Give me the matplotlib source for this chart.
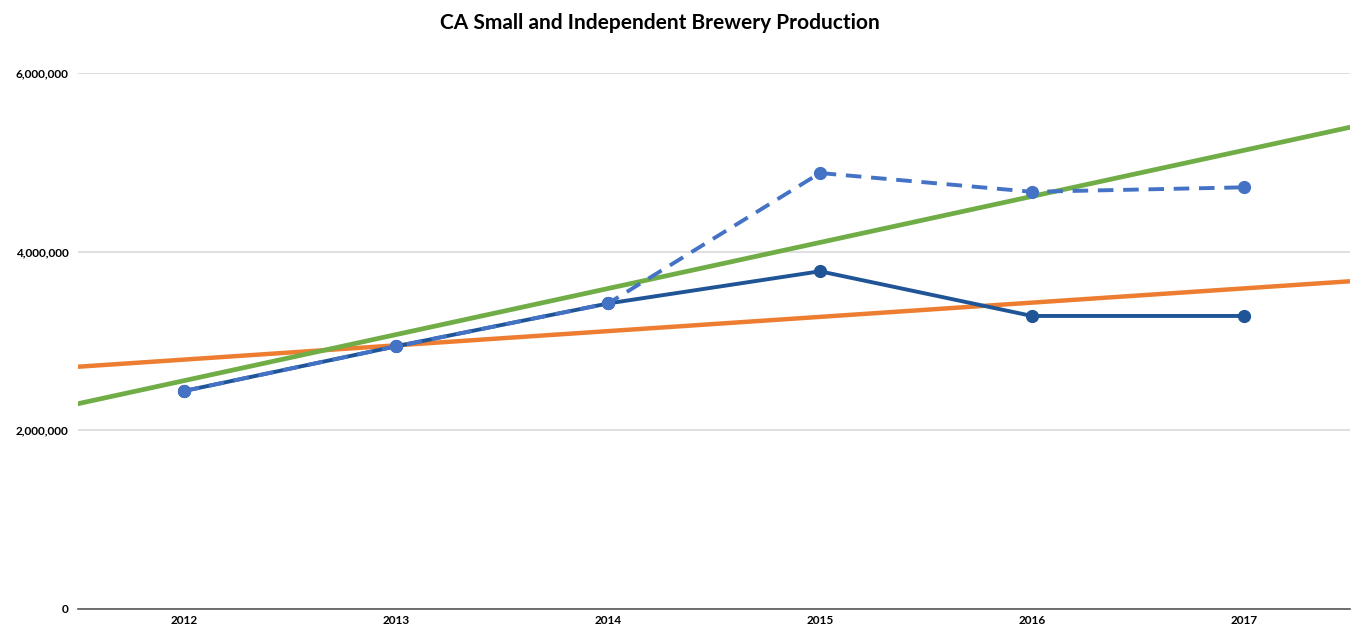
import numpy as np
import matplotlib
matplotlib.use("Agg")
import matplotlib.pyplot as plt
from matplotlib.ticker import FuncFormatter

# Data
years = ["2012", "2013", "2014", "2015", "2016", "2017"]
production = [2440000, 2940000, 3420000, 3780000, 3280000, 3280000]
production_alt = [2440000, 2940000, 3420000, 4880000, 4670000, 4720000]
y_ticks = [0, 2000000, 4000000, 6000000]

DARK_BLUE = "#1f5597"
LIGHT_BLUE = "#4472c4"
ORANGE = "#ed7d31"
GREEN = "#70ad47"

plt.rcParams["font.family"] = ["Lato", "DejaVu Sans"]


def main():
    x = np.arange(len(years))

    fig = plt.figure(figsize=(13.55, 6.28), dpi=100)
    ax = fig.add_axes([0.0576, 0.0303, 0.9387, 0.8535])

    ax.set_xlim(-0.5, len(years) - 0.5)
    ax.set_ylim(0, 6000000)

    # gridlines
    ax.set_yticks(y_ticks)
    ax.yaxis.grid(True, color="#d9d9d9", linewidth=1.2)
    ax.set_axisbelow(True)

    # linear trendlines (Excel style, forecast half a category each side)
    xt = np.array([-0.5, len(years) - 0.5])
    k1, b1 = np.polyfit(x, production, 1)
    k2, b2 = np.polyfit(x, production_alt, 1)
    ax.plot(xt, k1 * xt + b1, color=ORANGE, linewidth=3.2, zorder=2)
    ax.plot(xt, k2 * xt + b2, color=GREEN, linewidth=3.4, zorder=2)

    ax.plot(x, production, color=DARK_BLUE, linewidth=2.8, marker="o",
            markersize=8.5, zorder=3)
    ax.plot(x, production_alt, color=LIGHT_BLUE, linewidth=2.8, marker="o",
            markersize=8.5, linestyle=(0, (4, 2.5)), zorder=4)

    ax.set_xticks(x)
    ax.set_xticklabels(years, fontsize=8.5, fontweight="bold")
    ax.yaxis.set_major_formatter(FuncFormatter(lambda v, p: f"{int(v):,}"))
    for lab in ax.get_yticklabels():
        lab.set_fontsize(8.5)
        lab.set_fontweight("bold")
    ax.tick_params(axis="y", length=0, pad=7)
    ax.tick_params(axis="x", length=0, pad=4)

    for side in ["top", "right", "left"]:
        ax.spines[side].set_visible(False)
    ax.spines["bottom"].set_color("#595959")
    ax.spines["bottom"].set_linewidth(1.2)

    fig.text(0.487, 0.963, "CA Small and Independent Brewery Production",
             ha="center", va="center", fontsize=15, fontweight="bold")

    fig.savefig("out.png", dpi=100)
    plt.close(fig)


if __name__ == "__main__":
    main()
